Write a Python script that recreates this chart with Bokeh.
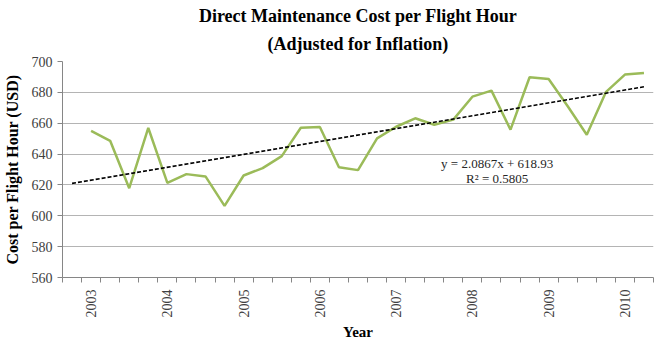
import math
from bokeh.plotting import figure
from bokeh.models import FixedTicker, Title, Label, Range1d
from bokeh.embed import file_html
from bokeh.resources import INLINE

# ---- data ----
years = ["2003", "2004", "2005", "2006", "2007", "2008", "2009", "2010"]
year_positions = [2, 6, 10, 14, 18, 22, 26, 30]
quarter_index = list(range(2, 32))
cost = [655.1, 648.6, 617.9, 656.9, 621.3, 627.0, 625.5, 606.4, 626.1, 630.9,
        638.7, 657.1, 657.5, 631.5, 629.6, 650.2, 657.7, 663.2, 659.0, 662.3,
        677.2, 681.1, 655.8, 689.8, 688.7, 671.0, 652.5, 680.1, 691.5, 692.6]
n_categories = 31
trend_slope = 2.0867
trend_intercept = 618.93
trend_r2 = 0.5805
y_ticks = [560, 580, 600, 620, 640, 660, 680, 700]

SERIF = "Liberation Serif"

p = figure(width=654, height=342, output_backend="svg", toolbar_location=None,
           x_range=Range1d(0.5, n_categories + 0.5), y_range=Range1d(560, 700),
           min_border_left=58, min_border_right=1, min_border_top=61,
           min_border_bottom=65)
p.outline_line_color = None
p.background_fill_color = "white"
p.border_fill_color = "white"

# titles (added bottom line first so it sits nearest the plot)
spacer = Title(text=" ", text_font_size="3px", standoff=0)
t2 = Title(text="(Adjusted for Inflation)", align="center", text_font=SERIF,
           text_font_size="18px", text_font_style="bold", text_color="black",
           standoff=6)
t1 = Title(text="Direct Maintenance Cost per Flight Hour", align="center",
           text_font=SERIF, text_font_size="18px", text_font_style="bold",
           text_color="black", standoff=5)
p.add_layout(spacer, "above")
p.add_layout(t2, "above")
p.add_layout(t1, "above")

# series
p.line(quarter_index, cost, line_color="#9BBB59", line_width=2.5)
trend_x = [1, n_categories]
trend_y = [trend_intercept + trend_slope * x for x in trend_x]
p.line(trend_x, trend_y, line_color="black", line_width=1.6, line_dash="4 2")

eq1 = Label(x=23.3, y=633.9, text=f"y = {trend_slope}x + {trend_intercept}",
            text_align="center", text_baseline="middle", text_font=SERIF,
            text_font_size="13px", text_color="#262626")
eq2 = Label(x=23.3, y=624.2, text=f"R\u00b2 = {trend_r2}",
            text_align="center", text_baseline="middle", text_font=SERIF,
            text_font_size="13px", text_color="#262626")
p.add_layout(eq1)
p.add_layout(eq2)

# x axis
xa = p.xaxis[0]
xa.ticker = FixedTicker(ticks=year_positions,
                        minor_ticks=[k + 0.5 for k in range(0, n_categories + 1)])
xa.major_label_overrides = {pos: yr for pos, yr in zip(year_positions, years)}
xa.major_label_orientation = math.pi / 2
xa.major_tick_line_color = None
xa.major_tick_in = 0
xa.major_tick_out = 5
xa.minor_tick_in = 0
xa.minor_tick_out = 5
xa.minor_tick_line_color = "#868686"
xa.axis_line_color = "#868686"
xa.major_label_text_font = SERIF
xa.major_label_text_font_size = "14px"
xa.major_label_text_color = "#404040"
xa.major_label_standoff = 7
xa.axis_label = "Year"
xa.axis_label_text_font = SERIF
xa.axis_label_text_font_size = "15px"
xa.axis_label_text_font_style = "bold"
xa.axis_label_text_color = "black"
xa.axis_label_standoff = 3

# y axis
ya = p.yaxis[0]
ya.ticker = FixedTicker(ticks=y_ticks)
ya.minor_tick_line_color = None
ya.major_tick_in = 0
ya.major_tick_out = 5
ya.major_tick_line_color = "#868686"
ya.axis_line_color = "#868686"
ya.major_label_text_font = SERIF
ya.major_label_text_font_size = "14px"
ya.major_label_text_color = "#404040"
ya.major_label_standoff = 5
ya.axis_label = "Cost per Flight Hour (USD)"
ya.axis_label_text_font = SERIF
ya.axis_label_text_font_size = "16px"
ya.axis_label_text_font_style = "bold"
ya.axis_label_text_color = "black"
ya.axis_label_standoff = 8

p.xgrid.grid_line_color = None
p.ygrid.grid_line_color = "#b4b4b4"
p.ygrid.grid_line_width = 1

open("out.html", "w").write(file_html(p, INLINE))
